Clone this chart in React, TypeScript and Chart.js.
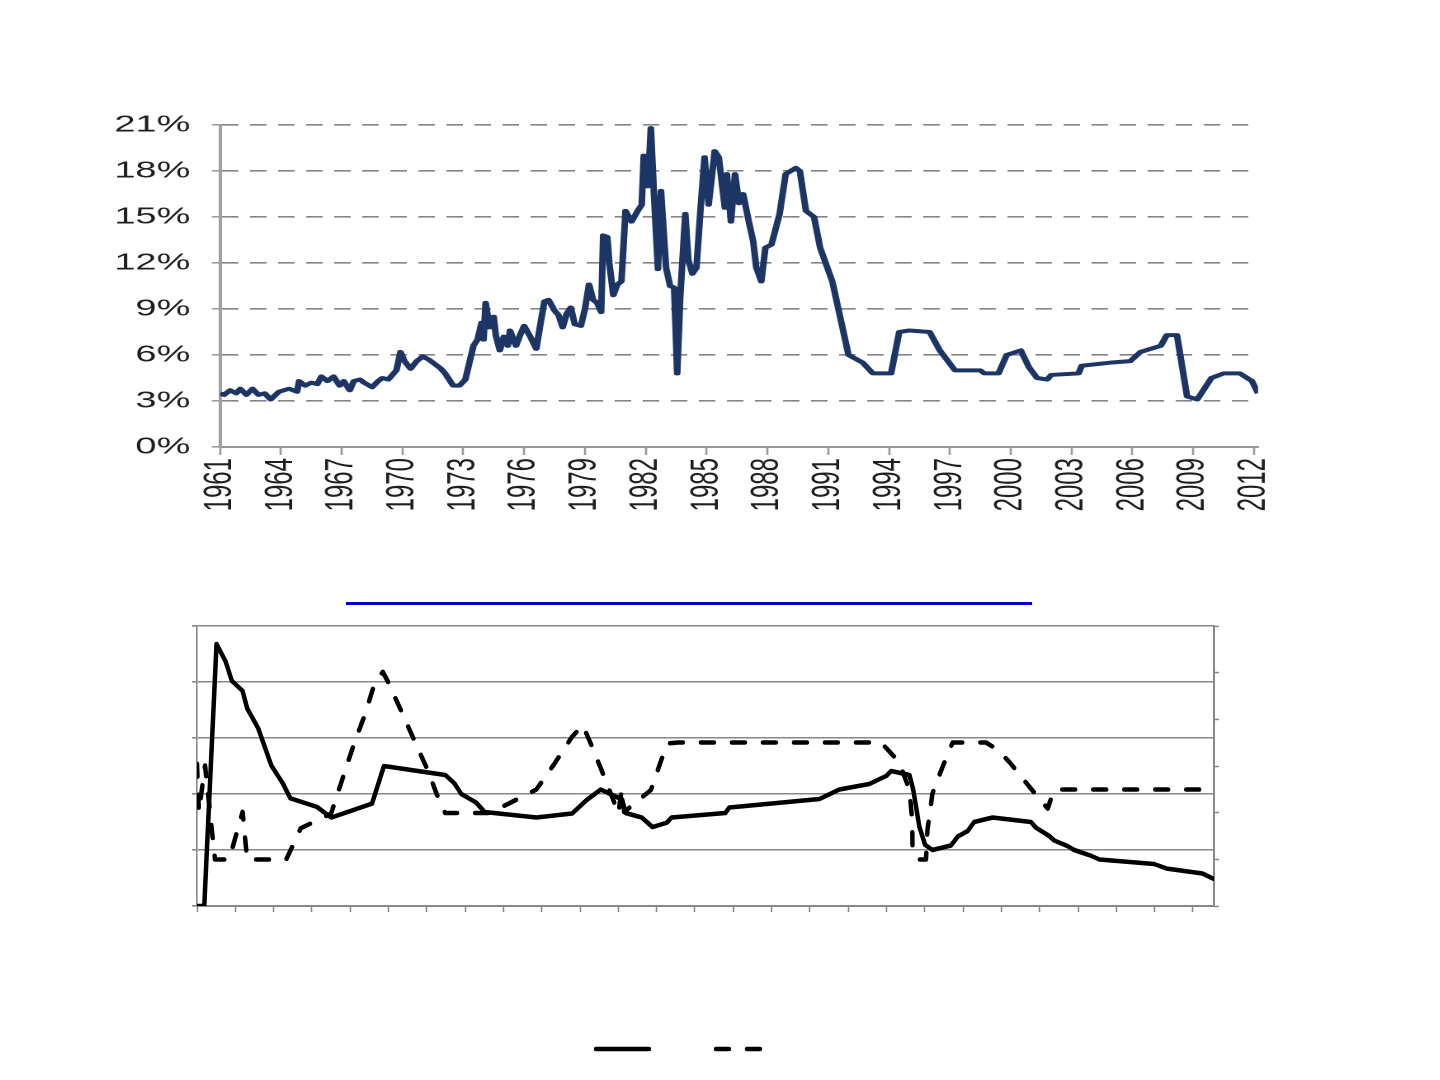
import React, { useEffect, useRef } from 'react';
import { Chart, registerables } from 'chart.js';

Chart.register(...registerables);

// ---------- Top chart: rate history (percent) ----------
const rateYears = [
  1961.0, 1961.2, 1961.5, 1961.8, 1962.0, 1962.3, 1962.6, 1962.9, 1963.2, 1963.5,
  1963.9, 1964.4, 1964.8, 1964.9, 1965.2, 1965.5, 1965.8, 1966.0, 1966.3, 1966.6,
  1966.9, 1967.1, 1967.4, 1967.6, 1967.9, 1968.1, 1968.5, 1968.8, 1969.0, 1969.3,
  1969.5, 1969.7, 1969.9, 1970.1, 1970.4, 1970.7, 1971.0, 1971.3, 1971.5, 1971.9,
  1972.1, 1972.3, 1972.5, 1972.8, 1973.1, 1973.3, 1973.5, 1973.7, 1973.9, 1974.0,
  1974.1, 1974.3, 1974.5, 1974.6, 1974.8, 1975.0, 1975.2, 1975.3, 1975.6, 1975.8,
  1976.0, 1976.3, 1976.6, 1976.8, 1977.0, 1977.2, 1977.5, 1977.7, 1977.9, 1978.1,
  1978.3, 1978.5, 1978.8, 1979.0, 1979.2, 1979.4, 1979.6, 1979.8, 1979.9, 1980.1,
  1980.2, 1980.4, 1980.6, 1980.8, 1981.0, 1981.3, 1981.6, 1981.8, 1981.9, 1982.1,
  1982.25, 1982.4, 1982.6, 1982.75, 1983.0, 1983.2, 1983.4, 1983.55, 1983.7, 1983.95,
  1984.1, 1984.3, 1984.5, 1984.7, 1984.9, 1985.1, 1985.4, 1985.6, 1985.9, 1986.0,
  1986.2, 1986.4, 1986.6, 1986.8, 1987.1, 1987.3, 1987.45, 1987.7, 1987.9, 1988.2,
  1988.6, 1988.9, 1989.4, 1989.6, 1989.9, 1990.3, 1990.6, 1991.2, 1991.7, 1992.0,
  1992.7, 1993.2, 1994.1, 1994.5, 1995.0, 1996.0, 1996.5, 1997.25, 1998.5, 1998.7,
  1999.4, 1999.8, 2000.5, 2000.9, 2001.3, 2001.8, 2002.0, 2003.35, 2003.5, 2004.9,
  2005.9, 2006.4, 2007.4, 2007.7, 2008.2, 2008.7, 2009.2, 2009.9, 2010.5, 2011.3,
  2011.9, 2012.2,
];
const rateValues = [
  3.5, 3.4, 3.7, 3.5, 3.8, 3.4, 3.8, 3.4, 3.5, 3.1,
  3.6, 3.8, 3.6, 4.3, 4.0, 4.2, 4.1, 4.6, 4.3, 4.6,
  4.0, 4.3, 3.7, 4.3, 4.4, 4.2, 3.9, 4.3, 4.5, 4.4,
  4.7, 5.0, 6.2, 5.6, 5.1, 5.6, 5.9, 5.7, 5.5, 5.1,
  4.8, 4.4, 4.0, 4.0, 4.4, 5.5, 6.6, 7.0, 8.1, 7.0,
  9.4, 7.8, 8.5, 7.3, 6.3, 7.2, 6.6, 7.6, 6.6, 7.3,
  7.9, 7.2, 6.4, 8.0, 9.5, 9.6, 8.9, 8.6, 7.8, 8.7,
  9.1, 8.0, 7.9, 9.0, 10.6, 9.6, 9.4, 8.8, 13.8, 13.7,
  12.0, 9.9, 10.6, 10.8, 15.4, 14.7, 15.4, 15.8, 19.0, 17.0,
  20.8, 16.6, 11.6, 16.7, 11.7, 10.5, 10.4, 4.8, 9.8, 15.2,
  12.2, 11.3, 11.7, 15.5, 18.9, 15.8, 19.3, 18.9, 15.6, 17.8,
  14.7, 17.8, 15.9, 16.5, 14.6, 13.4, 11.7, 10.8, 13.0, 13.2,
  15.2, 17.8, 18.2, 18.0, 15.4, 15.0, 13.0, 10.8, 7.8, 6.0,
  5.5, 4.8, 4.8, 7.5, 7.6, 7.5, 6.3, 5.0, 5.0, 4.8,
  4.8, 6.0, 6.3, 5.2, 4.5, 4.4, 4.7, 4.8, 5.3, 5.5,
  5.6, 6.2, 6.6, 7.3, 7.3, 3.3, 3.1, 4.5, 4.8, 4.8,
  4.3, 3.5,
];
const rateTickYears = [
  1961, 1964, 1967, 1970, 1973, 1976, 1979, 1982, 1985, 1988,
  1991, 1994, 1997, 2000, 2003, 2006, 2009, 2012,
];
const rateTickValues = [0, 3, 6, 9, 12, 15, 18, 21];

// ---------- Bottom chart: two unlabeled series ----------
const solidX = [
  0, 0.19, 0.51, 0.75, 0.91, 1.19, 1.31, 1.6, 1.94, 2.24,
  2.44, 3.13, 3.5, 4.57, 4.88, 6.48, 6.72, 6.9, 7.28, 7.51,
  8.86, 9.79, 10.17, 10.54, 11.1, 11.19, 11.61, 11.89, 12.27, 12.39,
  13.79, 13.9, 16.25, 16.77, 17.55, 17.99, 18.12, 18.6, 18.7, 18.86,
  19.01, 19.2, 19.68, 19.86, 20.12, 20.29, 20.77, 21.77, 21.9, 22.25,
  22.38, 22.73, 22.9, 23.29, 23.56, 24.99, 25.3, 26.25, 26.52,
];
const solidY = [
  0, 0, 4.68, 4.36, 4.02, 3.84, 3.53, 3.17, 2.51, 2.19,
  1.92, 1.77, 1.58, 1.83, 2.5, 2.34, 2.19, 2.0, 1.85, 1.68,
  1.58, 1.65, 1.89, 2.08, 1.9, 1.66, 1.58, 1.41, 1.49, 1.58,
  1.66, 1.76, 1.91, 2.08, 2.18, 2.32, 2.41, 2.34, 2.07, 1.41,
  1.09, 1.0, 1.08, 1.24, 1.34, 1.5, 1.58, 1.5, 1.4, 1.25,
  1.17, 1.07, 1.0, 0.91, 0.83, 0.75, 0.67, 0.58, 0.49,
];
const dashedX = [
  0, 0.05, 0.21, 0.47, 0.84, 1.19, 1.31, 2.33, 2.71, 3.5,
  3.73, 4.1, 4.38, 4.62, 4.85, 4.99, 5.32, 5.69, 6.06, 6.25,
  6.48, 7.65, 8.86, 9.33, 9.79, 10.07, 10.26, 10.63, 10.87, 11.0,
  11.08, 11.15, 11.85, 12.27, 12.55, 17.86, 18.33, 18.6, 18.67, 18.68,
  18.81, 19.03, 19.07, 19.2, 19.33, 19.6, 19.73, 20.6, 20.9, 21.21,
  21.73, 22.21, 22.34, 22.42, 26.52,
];
const dashedY = [
  2.54, 1.68, 2.51, 0.83, 0.83, 1.68, 0.83, 0.83, 1.39, 1.65,
  2.13, 2.9, 3.41, 3.94, 4.18, 4.0, 3.5, 2.93, 2.37, 2.01,
  1.66, 1.66, 2.08, 2.54, 3.02, 3.23, 2.93, 2.31, 1.89, 1.65,
  2.05, 1.68, 2.07, 2.9, 2.92, 2.92, 2.57, 2.07, 1.53, 0.97,
  0.83, 0.83, 1.36, 2.01, 2.25, 2.72, 2.92, 2.92, 2.79, 2.57,
  2.13, 1.74, 2.01, 2.08, 2.08,
];
const bottomXTicks = [
  0, 1, 2, 3, 4, 5, 6, 7, 8, 9, 10, 11, 12, 13,
  14, 15, 16, 17, 18, 19, 20, 21, 22, 23, 24, 25, 26,
];
const bottomLeftTicks = [0, 1, 2, 3, 4, 5];
const bottomRightTicks = [0, 1, 2, 3, 4, 5, 6];
const legendLabels = ['', ''];

const STRETCH = 1.65;
const FONT = "'Liberation Sans', Arial, sans-serif";

export default function App() {
  const topRef = useRef<HTMLCanvasElement | null>(null);
  const bottomRef = useRef<HTMLCanvasElement | null>(null);

  useEffect(() => {
    if (!topRef.current || !bottomRef.current) return;

    const topChart = new Chart(topRef.current, {
      type: 'line',
      data: {
        datasets: [
          {
            data: rateYears.map((x, i) => ({ x, y: rateValues[i] })),
            borderColor: '#1c3564',
            borderWidth: 4,
            pointRadius: 0,
            tension: 0,
            fill: false,
            borderJoinStyle: 'round',
          },
        ],
      },
      options: {
        responsive: false,
        animation: false,
        devicePixelRatio: 2,
        layout: { padding: { top: 25, right: 12.1, left: 0, bottom: 0 } },
        plugins: { legend: { display: false }, tooltip: { enabled: false } },
        scales: {
          x: {
            type: 'linear',
            min: 1961,
            max: 2012.2,
            afterBuildTicks: (s: any) => {
              s.ticks = rateTickYears.map((v) => ({ value: v }));
            },
            afterFit: (s: any) => {
              s.height = 78;
              s.paddingLeft = 0;
              s.paddingRight = 0;
            },
            grid: {
              drawOnChartArea: false,
              drawTicks: true,
              tickLength: 8,
              tickColor: '#9a9a9a',
              tickWidth: 1.3,
            },
            border: { display: true, color: '#9a9a9a', width: 2 },
            ticks: {
              autoSkip: false,
              minRotation: 90,
              maxRotation: 90,
              padding: 3,
              color: '#1e1e1e',
              font: { family: FONT, size: 24, lineHeight: 1 },
              callback: (v: any) => String(v),
            },
          },
          y: {
            min: 0,
            max: 21,
            afterBuildTicks: (s: any) => {
              s.ticks = rateTickValues.map((v) => ({ value: v }));
            },
            afterFit: (s: any) => {
              s.width = 78.8;
              s.paddingTop = 0;
              s.paddingBottom = 0;
            },
            grid: {
              color: '#858585',
              lineWidth: 1.6,
              tickLength: 5,
              tickColor: '#9a9a9a',
              tickWidth: 1.5,
            },
            border: { display: true, color: '#a0a0a0', width: 2, dash: [10, 7] },
            ticks: {
              padding: 13,
              color: '#1e1e1e',
              font: { family: FONT, size: 23, lineHeight: 1 },
              callback: (v: any) => `${v}%`,
            },
          },
        },
      },
    } as any);

    const bottomChart = new Chart(bottomRef.current, {
      type: 'line',
      data: {
        datasets: [
          {
            label: legendLabels[0],
            data: solidX.map((x, i) => ({ x, y: solidY[i] })),
            borderColor: '#000000',
            backgroundColor: '#000000',
            borderWidth: 4.5,
            pointRadius: 0,
            tension: 0,
            fill: false,
            borderCapStyle: 'round',
            borderJoinStyle: 'round',
            yAxisID: 'y',
          },
          {
            label: legendLabels[1],
            data: dashedX.map((x, i) => ({ x, y: dashedY[i] })),
            borderColor: '#000000',
            backgroundColor: '#000000',
            borderWidth: 4.5,
            borderDash: [13, 18],
            pointRadius: 0,
            tension: 0,
            fill: false,
            borderCapStyle: 'round',
            borderJoinStyle: 'round',
            yAxisID: 'y',
          },
        ],
      },
      options: {
        responsive: false,
        animation: false,
        layout: { padding: { top: 10, left: 0, right: 0, bottom: 0 } },
        plugins: {
          tooltip: { enabled: false },
          legend: {
            display: true,
            position: 'bottom',
            labels: {
              usePointStyle: true,
              pointStyle: 'line',
              pointStyleWidth: 53,
              padding: 61,
              color: '#000000',
              font: { family: FONT, size: 12 },
              generateLabels: (chart: any) =>
                chart.data.datasets.map((ds: any, i: number) => ({
                  text: ds.label,
                  fillStyle: ds.borderColor,
                  strokeStyle: ds.borderColor,
                  fontColor: '#000000',
                  lineWidth: ds.borderWidth,
                  lineDash: ds.borderDash || [],
                  lineCap: ds.borderCapStyle,
                  lineJoin: ds.borderJoinStyle,
                  pointStyle: 'line',
                  hidden: false,
                  datasetIndex: i,
                })),
            },
          },
        },
        scales: {
          x: {
            type: 'linear',
            min: 0,
            max: 26.55,
            afterBuildTicks: (s: any) => {
              s.ticks = bottomXTicks.map((v) => ({ value: v }));
            },
            afterFit: (s: any) => {
              s.height = 76;
              s.paddingLeft = 0;
              s.paddingRight = 0;
            },
            grid: {
              drawOnChartArea: false,
              tickLength: 6,
              tickColor: '#888888',
              tickWidth: 1.5,
            },
            border: { display: true, color: '#888888', width: 2 },
            ticks: { autoSkip: false, maxRotation: 0, callback: () => '' },
          },
          y: {
            position: 'left',
            min: 0,
            max: 5,
            afterBuildTicks: (s: any) => {
              s.ticks = bottomLeftTicks.map((v) => ({ value: v }));
            },
            afterFit: (s: any) => {
              s.width = 48;
              s.paddingTop = 0;
              s.paddingBottom = 0;
            },
            grid: {
              color: '#888888',
              lineWidth: 1.6,
              tickLength: 5,
              tickColor: '#888888',
            },
            border: { display: true, color: '#888888', width: 1.6 },
            ticks: { callback: () => '' },
          },
          y2: {
            position: 'right',
            min: 0,
            max: 6,
            afterBuildTicks: (s: any) => {
              s.ticks = bottomRightTicks.map((v) => ({ value: v }));
            },
            afterFit: (s: any) => {
              s.width = 8;
              s.paddingTop = 0;
              s.paddingBottom = 0;
            },
            grid: {
              drawOnChartArea: false,
              tickLength: 5,
              tickColor: '#888888',
              tickWidth: 1.5,
            },
            border: { display: true, color: '#888888', width: 2 },
            ticks: { callback: () => '' },
          },
        },
      },
    } as any);

    return () => {
      topChart.destroy();
      bottomChart.destroy();
    };
  }, []);

  return (
    <div
      style={{
        position: 'absolute',
        left: 0,
        top: 0,
        width: 1440,
        height: 1080,
        background: '#ffffff',
        overflow: 'hidden',
      }}
    >
      <div
        style={{
          position: 'absolute',
          left: 90,
          top: 100,
          width: 720,
          height: 425,
          transform: `scaleX(${STRETCH})`,
          transformOrigin: '0 0',
        }}
      >
        <canvas ref={topRef} width={720} height={425} />
      </div>
      <div
        style={{
          position: 'absolute',
          left: 346,
          top: 602,
          width: 686,
          height: 3,
          background: '#0000cc',
        }}
      />
      <canvas
        ref={bottomRef}
        width={1073}
        height={449}
        style={{ position: 'absolute', left: 149, top: 616 }}
      />
    </div>
  );
}
